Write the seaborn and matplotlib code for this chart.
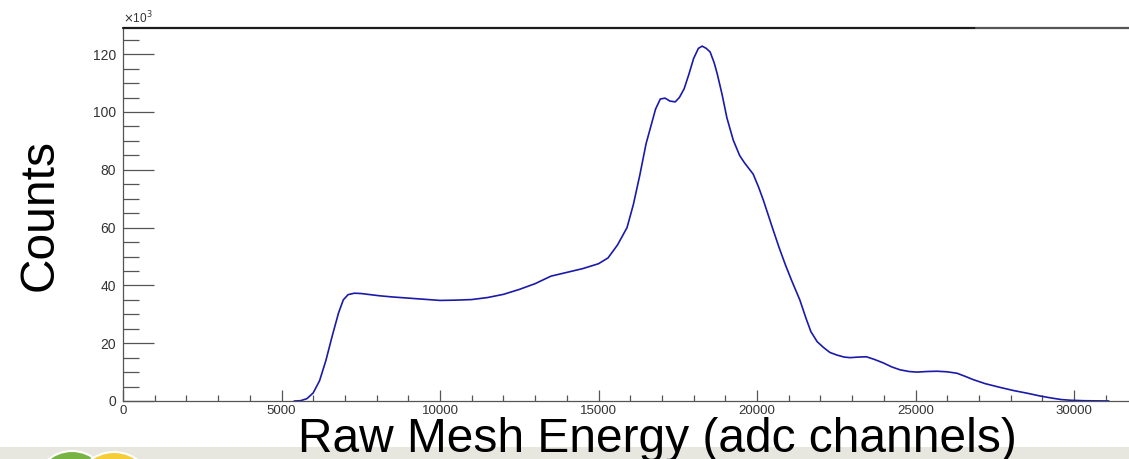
import matplotlib
matplotlib.use("Agg")
import matplotlib.pyplot as plt
from matplotlib.lines import Line2D
from matplotlib.patches import Circle, Rectangle
from matplotlib.ticker import MultipleLocator
import seaborn as sns
import pandas as pd

# Raw mesh energy spectrum (adc channels) and counts in units of 10^3
adc_channels = [
    5400, 5600, 5800, 6000, 6200, 6400, 6600, 6800, 6950, 7100, 7300, 7500,
    7800, 8100, 8500, 9000, 9500, 10000, 10500, 11000, 11500, 12000, 12500,
    13000, 13500, 14000, 14500, 15000, 15300, 15600, 15900, 16100, 16300,
    16500, 16650, 16800, 16950, 17100, 17250, 17420, 17550, 17700, 17850,
    18000, 18150, 18270, 18400, 18520, 18650, 18750, 18900, 19050, 19250,
    19450, 19600, 19880, 20050, 20200, 20350, 20500, 20700, 20900, 21100,
    21350, 21550, 21700, 21900, 22100, 22300, 22520, 22750, 22940, 23200,
    23450, 23700, 23980, 24250, 24510, 24800, 25050, 25350, 25680, 26000,
    26310, 26550, 26820, 27200, 27670, 28100, 28520, 28900, 29250, 29600,
    29900, 30300, 30700, 31100,
]
counts_k = [
    0.0, 0.1, 0.8, 2.8, 7.0, 14.0, 22.5, 30.5, 35.0, 36.8, 37.3, 37.2,
    36.8, 36.4, 36.0, 35.6, 35.2, 34.8, 34.9, 35.1, 35.8, 36.9, 38.6,
    40.6, 43.2, 44.5, 45.8, 47.5, 49.5, 54.0, 60.0, 68.0, 78.0,
    89.0, 95.0, 101.0, 104.5, 104.8, 103.8, 103.5, 105.0, 108.0, 113.0,
    118.5, 122.0, 122.8, 122.0, 120.8, 117.0, 113.0, 106.0, 98.0, 90.3,
    85.0, 82.5, 78.5, 74.0, 69.5, 64.5, 59.5, 53.0, 47.0, 41.5,
    35.0, 28.5, 24.0, 20.5, 18.5, 16.8, 15.9, 15.2, 15.0, 15.2,
    15.3, 14.4, 13.2, 11.8, 10.8, 10.2, 10.0, 10.2, 10.3, 10.1,
    9.6, 8.6, 7.4, 6.0, 4.7, 3.6, 2.7, 1.8, 1.1, 0.5,
    0.25, 0.1, 0.05, 0.0,
]
x_ticks = [0, 5000, 10000, 15000, 20000, 25000, 30000]
y_ticks = [0, 20, 40, 60, 80, 100, 120]

sns.set_style("ticks")
plt.rcParams["font.family"] = ["Liberation Sans", "DejaVu Sans"]

W, H = 1129, 459
DPI = 100
fig = plt.figure(figsize=(W / DPI, H / DPI), dpi=DPI)
fig.patch.set_facecolor("white")

# footer band with logo circles (positions in inches from bottom-left)
fig.patches.append(Rectangle((0, 0), 1, 12 / H, transform=fig.transFigure,
                             facecolor="#e7e7df", edgecolor="none", zorder=0))
fig.patches.append(Circle((72 / DPI, -29 / DPI), 37 / DPI, transform=fig.dpi_scale_trans,
                          facecolor="#77b443", edgecolor="white", lw=1.5, zorder=1))
fig.patches.append(Circle((114 / DPI, -32 / DPI), 39 / DPI, transform=fig.dpi_scale_trans,
                          facecolor="#f4cd38", edgecolor="white", lw=1.5, zorder=1))

ax = fig.add_axes([123 / W, 58 / H, 1 - 123 / W, (401 - 28) / H])
ax.set_facecolor("none")

df = pd.DataFrame({"adc": adc_channels, "counts": counts_k})
sns.lineplot(data=df, x="adc", y="counts", ax=ax, color="#1a1aaa", lw=1.2)

ax.set_xlim(0, (W - 123) * 5000 / 158.5)
ax.set_ylim(0, (401 - 28) / 2.89)

ax.set_xticks(x_ticks)
ax.set_xticklabels([str(v) for v in x_ticks])
ax.set_yticks(y_ticks)
ax.set_yticklabels([str(v) for v in y_ticks])
ax.xaxis.set_minor_locator(MultipleLocator(1000))
ax.yaxis.set_minor_locator(MultipleLocator(5))

ax.tick_params(axis="x", which="major", direction="in", length=8, width=0.9,
               color="#555555", labelsize=9.5, labelcolor="#333333", pad=3)
ax.tick_params(axis="x", which="minor", direction="in", length=4.3, width=0.9,
               color="#555555")
ax.tick_params(axis="y", which="major", direction="in", length=22, width=0.9,
               color="#555555", labelsize=10, labelcolor="#333333", pad=5)
ax.tick_params(axis="y", which="minor", direction="in", length=11.5, width=0.9,
               color="#555555")

for side in ("left", "bottom"):
    ax.spines[side].set_color("#555555")
    ax.spines[side].set_linewidth(0.9)
ax.spines["right"].set_visible(False)
ax.spines["top"].set_visible(False)

ax.set_xlabel("")
ax.set_ylabel("")

# top frame line
fig.add_artist(Line2D([123 / W, 976 / W], [1 - 28 / H] * 2, transform=fig.transFigure,
                      color="#1c1c1c", lw=1.6))
fig.add_artist(Line2D([976 / W, 1.0], [1 - 28 / H] * 2, transform=fig.transFigure,
                      color="#555555", lw=1.6))

# exponent marker
fig.text(123 / W, 1 - 26 / H, r"$\times$10$^{3}$", fontsize=8.5, color="#333333",
         ha="left", va="bottom")

fig.text(657 / W, 1 - 440 / H, "Raw Mesh Energy (adc channels)", fontsize=34.5,
         color="black", ha="center", va="center", zorder=5)
fig.text(40 / W, 1 - 215 / H, "Counts", fontsize=34.5, color="black",
         ha="center", va="center", rotation=90)

fig.savefig("out.png", dpi=DPI)
